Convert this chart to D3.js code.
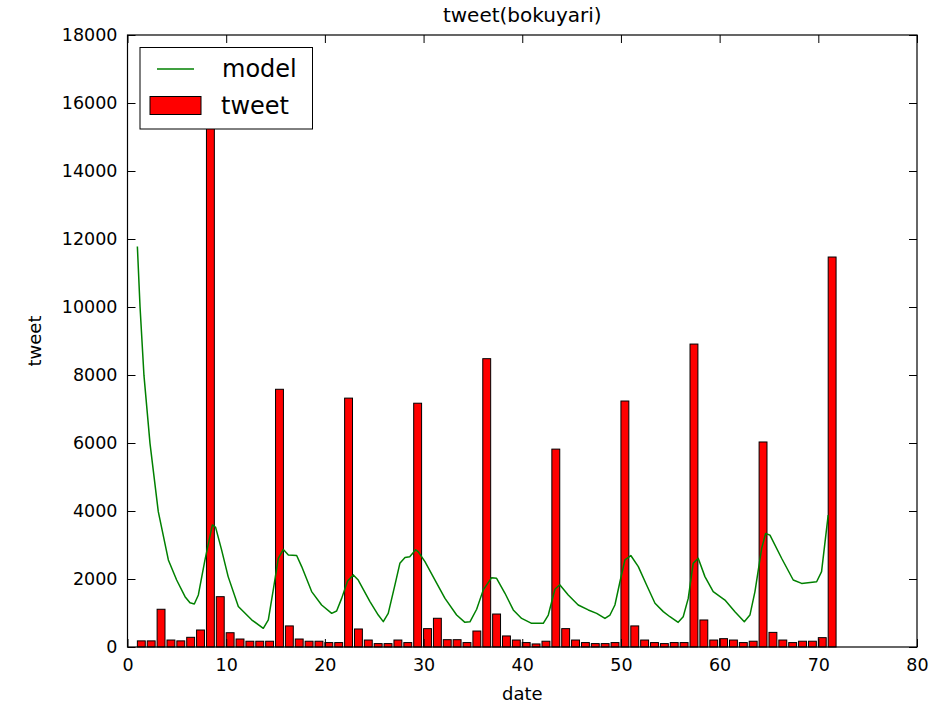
<!DOCTYPE html>
<html>
<head>
<meta charset="utf-8">
<script src="https://cdn.jsdelivr.net/npm/d3@7"></script>
<style>
  html, body { margin: 0; padding: 0; background: #fff; }
  svg { display: block; font-family: "DejaVu Sans", sans-serif; }
</style>
</head>
<body>
<svg id="chart" width="941" height="707"></svg>
<script>
// ---- data ----
const days = d3.range(1, 72);
const tweets = [180, 180, 1110, 205, 180, 285, 500, 16800, 1480, 420,
  235, 170, 170, 170, 7580, 620, 235, 170, 170, 130,
  130, 7320, 530, 205, 100, 100, 205, 130, 7170, 540,
  845, 215, 215, 130, 470, 8480, 970, 325, 205, 130,
  90, 170, 5820, 540, 205, 130, 100, 100, 130, 7235,
  620, 205, 130, 100, 130, 130, 8910, 795, 205, 245,
  205, 130, 170, 6030, 430, 205, 130, 170, 170, 275,
  11470];
const modelDays = [1.0, 1.27, 1.67, 2.28, 3.12, 4.14, 4.98, 5.83, 6.33, 6.77,
  7.18, 7.85, 8.6, 8.93, 9.54, 10.2, 11.23, 12.58, 13.76, 14.27,
  14.77, 15.28, 15.79, 16.3, 17.14, 17.65, 18.66, 19.67, 20.69, 21.19,
  21.7, 22.3, 22.88, 23.38, 24.57, 25.41, 25.92, 26.42, 27.1, 27.6,
  28.12, 28.6, 29.2, 29.47, 30.14, 31.16, 32.17, 33.35, 34.19, 34.7,
  35.38, 36.05, 36.9, 37.4, 38.25, 39.09, 39.94, 40.95, 42.13, 42.64,
  43.31, 43.8, 44.66, 45.67, 46.69, 47.54, 48.38, 48.89, 49.39, 49.9,
  50.4, 51.0, 51.76, 52.6, 53.45, 54.29, 54.96, 55.8, 56.31, 56.82,
  57.32, 57.83, 58.51, 59.35, 60.54, 61.55, 62.5, 63.07, 63.58, 64.26,
  64.66, 65.1, 66.28, 67.46, 68.31, 69.83, 70.33, 71.0];
const modelValues = [11780, 10010, 7980, 5990, 3980, 2560, 1970, 1480, 1300, 1265,
  1530, 2560, 3590, 3520, 2850, 2070, 1190, 800, 550, 800,
  1680, 2610, 2870, 2705, 2690, 2365, 1630, 1235, 990, 1060,
  1430, 1940, 2120, 1970, 1335, 940, 745, 990, 1825, 2460,
  2630, 2655, 2860, 2800, 2510, 1970, 1430, 940, 725, 740,
  1110, 1680, 2040, 2020, 1580, 1090, 840, 695, 695, 940,
  1700, 1830, 1530, 1235, 1090, 990, 840, 940, 1235, 1920,
  2560, 2690, 2365, 1825, 1285, 1040, 890, 725, 890, 1430,
  2460, 2610, 2070, 1630, 1380, 1040, 745, 940, 1630, 2900,
  3340, 3290, 2610, 1970, 1870, 1920, 2215, 3880];
const xTicks = [0, 10, 20, 30, 40, 50, 60, 70, 80];
const yTicks = [0, 2000, 4000, 6000, 8000, 10000, 12000, 14000, 16000, 18000];
const barWidth = 0.8;
const titleText = "tweet(bokuyari)";
const xLabel = "date";
const yLabel = "tweet";
const legendLabels = ["model", "tweet"];

// ---- layout ----
const svg = d3.select("#chart");
const pL = 127.5, pR = 917, pT = 35, pB = 647;
const x = d3.scaleLinear().domain([0, 80]).range([pL, pR]);
const y = d3.scaleLinear().domain([0, 18000]).range([pB, pT]);
const fs = 17.5;

// bars
svg.append("g").selectAll("rect").data(days).join("rect")
  .attr("x", (d) => x(d))
  .attr("width", (d) => x(d + barWidth) - x(d))
  .attr("y", (d, i) => y(tweets[i]))
  .attr("height", (d, i) => y(0) - y(tweets[i]))
  .attr("fill", "#ff0000")
  .attr("stroke", "#000")
  .attr("stroke-width", 1);

// model line
const line = d3.line().x((d) => x(d[0])).y((d) => y(d[1]));
svg.append("path")
  .datum(modelDays.map((d, i) => [d, modelValues[i]]))
  .attr("d", line)
  .attr("fill", "none")
  .attr("stroke", "#008000")
  .attr("stroke-width", 1.5)
  .attr("stroke-linejoin", "round");

// axes (ticks inward, all four sides)
const tl = 8;
const axB = svg.append("g").attr("transform", `translate(0,${pB})`)
  .call(d3.axisBottom(x).tickValues(xTicks).tickSize(-tl).tickPadding(12).tickFormat(d3.format("d")));
const axT = svg.append("g").attr("transform", `translate(0,${pT})`)
  .call(d3.axisTop(x).tickValues(xTicks).tickSize(-tl).tickFormat(""));
const axL = svg.append("g").attr("transform", `translate(${pL},0)`)
  .call(d3.axisLeft(y).tickValues(yTicks).tickSize(-tl).tickPadding(10).tickFormat(d3.format("d")));
const axR = svg.append("g").attr("transform", `translate(${pR},0)`)
  .call(d3.axisRight(y).tickValues(yTicks).tickSize(-tl).tickFormat(""));
[axB, axT, axL, axR].forEach((g) => {
  g.select(".domain").remove();
  g.selectAll(".tick line").attr("stroke", "#000").attr("stroke-width", 1);
  g.selectAll(".tick text").attr("fill", "#000").attr("font-size", fs)
    .attr("font-family", "DejaVu Sans, sans-serif");
});

// frame
svg.append("rect").attr("x", pL).attr("y", pT)
  .attr("width", pR - pL).attr("height", pB - pT)
  .attr("fill", "none").attr("stroke", "#000").attr("stroke-width", 1.2);

// title & labels
svg.append("text").attr("x", (pL + pR) / 2).attr("y", 22)
  .attr("text-anchor", "middle").attr("font-size", 20).text(titleText);
svg.append("text").attr("x", (pL + pR) / 2).attr("y", 700)
  .attr("text-anchor", "middle").attr("font-size", 18).text(xLabel);
svg.append("text").attr("transform", `translate(41,${(pT + pB) / 2}) rotate(-90)`)
  .attr("text-anchor", "middle").attr("font-size", 18).text(yLabel);

// legend
const lg = svg.append("g");
lg.append("rect").attr("x", 140).attr("y", 47.5).attr("width", 172.5).attr("height", 81.5)
  .attr("fill", "#fff").attr("stroke", "#000").attr("stroke-width", 1);
lg.append("line").attr("x1", 157).attr("x2", 194).attr("y1", 69).attr("y2", 69)
  .attr("stroke", "#008000").attr("stroke-width", 1.5);
lg.append("rect").attr("x", 150).attr("y", 96.5).attr("width", 51).attr("height", 18)
  .attr("fill", "#ff0000").attr("stroke", "#000").attr("stroke-width", 1);
lg.append("text").attr("x", 222).attr("y", 69).attr("dy", "0.35em")
  .attr("font-size", 24).text(legendLabels[0]);
lg.append("text").attr("x", 221).attr("y", 105.5).attr("dy", "0.35em")
  .attr("font-size", 24).text(legendLabels[1]);
</script>
</body>
</html>
